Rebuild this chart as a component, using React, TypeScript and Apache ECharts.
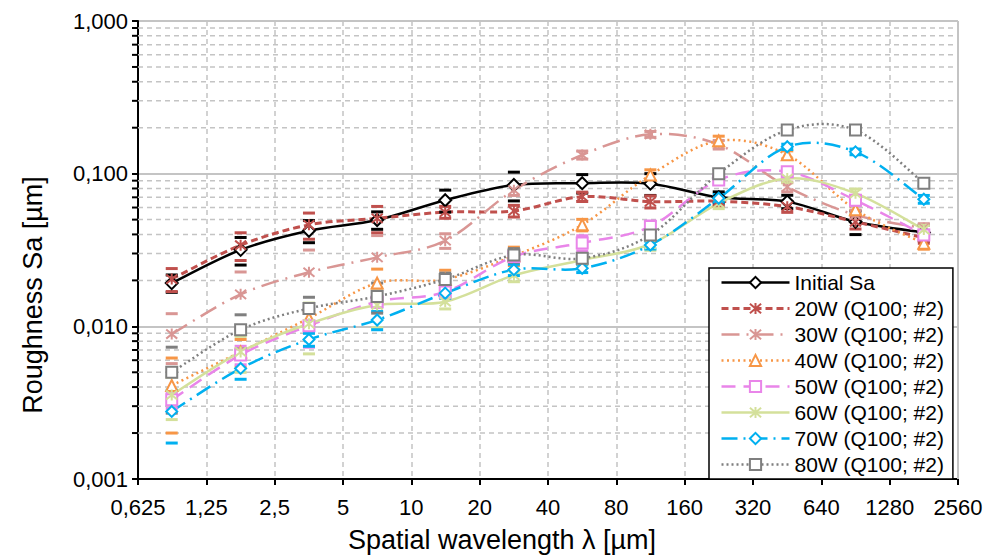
import React, { useEffect, useRef } from 'react';
import * as echarts from 'echarts';

// Spatial wavelength of each band centre [µm]
const wavelength = [0.88, 1.77, 3.54, 7.07, 14.1, 28.3, 56.6, 113, 226, 453, 905, 1810];
// first x tick label value and number of octaves on the x axis
const firstTick = 0.625;
const octaves = 12;

const initialSa = [0.0192, 0.0317, 0.0423, 0.0497, 0.067, 0.0843, 0.0866, 0.086, 0.07, 0.0656, 0.0484, 0.0412];
const initialSaErr = [0.0025, 0.0065, 0.007, 0.0065, 0.011, 0.018, 0.012, 0.014, 0.006, 0.0066, 0.0085, 0.005];
const w20 = [0.0204, 0.034, 0.0462, 0.051, 0.056, 0.057, 0.0707, 0.0656, 0.066, 0.0608, 0.0484, 0.038];
const w20Err = [0.0035, 0.007, 0.009, 0.01, 0.005, 0.005, 0.005, 0.006, 0.005, 0.005, 0.005, 0.003];
const w30 = [0.0089, 0.0162, 0.0226, 0.0283, 0.0364, 0.078, 0.1326, 0.181, 0.155, 0.082, 0.0537, 0.044];
const w30Err = [0.0032, 0.0065, 0.009, 0.011, 0.004, 0.006, 0.008, 0.008, 0.01, 0.006, 0.004, 0.003];
const w40 = [0.0041, 0.0068, 0.0113, 0.0192, 0.0203, 0.029, 0.0462, 0.098, 0.164, 0.133, 0.058, 0.035];
const w40Err = [0.0021, 0.0014, 0.0012, 0.0045, 0.003, 0.004, 0.004, 0.008, 0.012, 0.008, 0.004, 0.003];
const w50 = [0.0033, 0.0065, 0.0101, 0.0145, 0.0168, 0.0287, 0.0352, 0.045, 0.091, 0.103, 0.067, 0.0397];
const w50Err = [0.0004, 0.0009, 0.0028, 0.0012, 0.0015, 0.002, 0.004, 0.004, 0.006, 0.006, 0.005, 0.003];
const w60 = [0.00355, 0.0068, 0.0104, 0.0138, 0.0145, 0.0216, 0.0272, 0.0345, 0.064, 0.093, 0.0743, 0.043];
const w60Err = [0.0011, 0.0018, 0.0038, 0.004, 0.0015, 0.002, 0.002, 0.003, 0.005, 0.006, 0.005, 0.003];
const w70 = [0.00277, 0.0053, 0.0082, 0.011, 0.0165, 0.0235, 0.024, 0.0341, 0.069, 0.15, 0.139, 0.068];
const w70Err = [0.00105, 0.0008, 0.0008, 0.0015, 0.0012, 0.002, 0.0015, 0.002, 0.004, 0.006, 0.006, 0.004];
const w80 = [0.005, 0.0095, 0.0131, 0.0157, 0.0203, 0.0293, 0.0279, 0.0397, 0.1, 0.193, 0.193, 0.0866];
const w80Err = [0.0023, 0.0024, 0.0024, 0.0035, 0.002, 0.003, 0.002, 0.003, 0.006, 0.008, 0.008, 0.004];

// minor (dashed) gridlines of the logarithmic y axis
const yMinorTicks = [
  0.002, 0.003, 0.004, 0.005, 0.006, 0.007, 0.008, 0.009,
  0.02, 0.03, 0.04, 0.05, 0.06, 0.07, 0.08, 0.09,
  0.2, 0.3, 0.4, 0.5, 0.6, 0.7, 0.8, 0.9,
];

const FONT = '"Liberation Sans", Arial, Helvetica, sans-serif';
const ASTER = 'path://M0,0L10,10M10,0L0,10M5,-1L5,11';

type Def = {
  name: string;
  data: number[];
  err: number[];
  color: string;
  dash: number[] | 'solid';
  width: number;
  symbol: string;
  size: number;
};

const defs: Def[] = [
  { name: 'Initial Sa', data: initialSa, err: initialSaErr, color: '#000000', dash: 'solid', width: 2.5, symbol: 'emptyDiamond', size: 12 },
  { name: '20W (Q100; #2)', data: w20, err: w20Err, color: '#C0504D', dash: [7, 4], width: 3, symbol: ASTER, size: 11 },
  { name: '30W (Q100; #2)', data: w30, err: w30Err, color: '#D99694', dash: [18, 7, 2, 7], width: 2.5, symbol: ASTER, size: 11 },
  { name: '40W (Q100; #2)', data: w40, err: w40Err, color: '#F79646', dash: [2, 3.5], width: 2.5, symbol: 'emptyTriangle', size: 11 },
  { name: '50W (Q100; #2)', data: w50, err: w50Err, color: '#E985E9', dash: [14, 8], width: 2.5, symbol: 'emptyRect', size: 11 },
  { name: '60W (Q100; #2)', data: w60, err: w60Err, color: '#D4E09B', dash: 'solid', width: 2.5, symbol: ASTER, size: 11 },
  { name: '70W (Q100; #2)', data: w70, err: w70Err, color: '#00B0F0', dash: [16, 6, 2, 6], width: 2.5, symbol: 'emptyDiamond', size: 11 },
  { name: '80W (Q100; #2)', data: w80, err: w80Err, color: '#7F7F7F', dash: [2, 3], width: 2.5, symbol: 'emptyRect', size: 11 },
];

const octave = (w: number) => Math.log2(w / firstTick);
const fmtComma = (v: number, digits?: number) =>
  (digits != null ? v.toFixed(digits) : String(v)).replace('.', ',');

// Spreadsheet-style smoothed curve (cardinal spline through the points)
function smoothPath(pts: number[][]): string {
  const n = pts.length;
  let d = `M${pts[0][0]},${pts[0][1]}`;
  for (let i = 0; i < n - 1; i++) {
    const p0 = pts[i - 1] || pts[i];
    const p1 = pts[i];
    const p2 = pts[i + 1];
    const p3 = pts[i + 2] || pts[i + 1];
    const c1x = p1[0] + (p2[0] - p0[0]) / 6;
    const c1y = p1[1] + (p2[1] - p0[1]) / 6;
    const c2x = p2[0] - (p3[0] - p1[0]) / 6;
    const c2y = p2[1] - (p3[1] - p1[1]) / 6;
    d += ` C${c1x},${c1y} ${c2x},${c2y} ${p2[0]},${p2[1]}`;
  }
  return d;
}

export default function App() {
  const ref = useRef<HTMLDivElement>(null);

  useEffect(() => {
    const chart = echarts.init(ref.current!, null, { renderer: 'svg' });

    const curveSeries = defs.map((d) => ({
      name: 'curve ' + d.name,
      type: 'custom',
      silent: true,
      z: 3,
      data: d.data.map((v, i) => [octave(wavelength[i]), v]),
      encode: { x: 0, y: 1 },
      renderItem: (params: any, api: any) => {
        if (params.dataIndex !== 0) return null;
        const pts = d.data.map((v, i) => api.coord([octave(wavelength[i]), v]));
        return {
          type: 'path',
          shape: { pathData: smoothPath(pts) },
          style: {
            fill: 'none',
            stroke: d.color,
            lineWidth: d.width,
            lineDash: d.dash === 'solid' ? null : d.dash,
          },
        };
      },
    }));

    const markerSeries = defs.map((d) => ({
      name: d.name,
      type: 'line',
      data: d.data.map((v, i) => [octave(wavelength[i]), v]),
      symbol: d.symbol,
      symbolSize: d.size,
      showSymbol: true,
      lineStyle: { color: d.color, width: d.width, type: d.dash, opacity: 0 },
      itemStyle: { color: d.color, borderColor: d.color, borderWidth: 2 },
      emphasis: { disabled: true },
      z: 5,
    }));

    const errSeries = defs.map((d) => ({
      name: 'err ' + d.name,
      type: 'custom',
      silent: true,
      z: 4,
      data: d.data.map((v, i) => [octave(wavelength[i]), v - d.err[i], v + d.err[i]]),
      encode: { x: 0, y: [1, 2] },
      renderItem: (params: any, api: any) => {
        const x = api.value(0);
        const lo = api.coord([x, api.value(1)]);
        const hi = api.coord([x, api.value(2)]);
        const hw = 6;
        const st = { stroke: d.color, lineWidth: 3 };
        return {
          type: 'group',
          children: [
            { type: 'line', shape: { x1: lo[0] - hw, y1: lo[1], x2: lo[0] + hw, y2: lo[1] }, style: st },
            { type: 'line', shape: { x1: hi[0] - hw, y1: hi[1], x2: hi[0] + hw, y2: hi[1] }, style: st },
          ],
        };
      },
    }));

    const minorGrid = {
      name: 'minor grid',
      type: 'custom',
      silent: true,
      z: 1,
      data: yMinorTicks.map((v) => [0, v]),
      encode: { x: 0, y: 1 },
      renderItem: (params: any, api: any) => {
        const cs = params.coordSys;
        const y = api.coord([0, api.value(1)])[1];
        const children: any[] = [
          { type: 'line', shape: { x1: cs.x, y1: y, x2: cs.x + cs.width, y2: y }, style: { stroke: '#C4C4C4', lineWidth: 1.5, lineDash: [5, 4] } },
          { type: 'line', shape: { x1: cs.x - 6, y1: y, x2: cs.x, y2: y }, style: { stroke: '#000', lineWidth: 2 } },
        ];
        if (params.dataIndex === 0) {
          children.push({ type: 'line', shape: { x1: cs.x + cs.width, y1: cs.y, x2: cs.x + cs.width, y2: cs.y + cs.height }, style: { stroke: '#C4C4C4', lineWidth: 2 } });
        }
        return { type: 'group', children };
      },
    };

    const option: any = {
      animation: false,
      textStyle: { fontFamily: FONT },
      grid: { left: 138, top: 21, right: 37, bottom: 77, containLabel: false },
      xAxis: {
        type: 'value',
        min: 0,
        max: octaves,
        interval: 1,
        axisLine: { show: true, onZero: false, lineStyle: { color: '#000', width: 2 } },
        axisTick: { show: true, length: 6, lineStyle: { color: '#000', width: 2 } },
        axisLabel: {
          fontSize: 22,
          color: '#000',
          margin: 17,
          fontFamily: FONT,
          showMinLabel: true,
          showMaxLabel: true,
          formatter: (v: number) => fmtComma(firstTick * Math.pow(2, v)),
        },
        splitLine: { show: true, lineStyle: { color: '#C4C4C4', width: 1.5, type: [5, 4] } },
      },
      yAxis: {
        type: 'log',
        logBase: 10,
        min: 0.001,
        max: 1,
        axisLine: { show: true, onZero: false, lineStyle: { color: '#000', width: 2 } },
        axisTick: { show: true, length: 6, lineStyle: { color: '#000', width: 2 } },
        axisLabel: {
          fontSize: 22,
          color: '#000',
          margin: 10,
          fontFamily: FONT,
          formatter: (v: number) => fmtComma(v, 3),
        },
        splitLine: { show: true, lineStyle: { color: '#C4C4C4', width: 2, type: 'solid' } },
      },
      legend: {
        show: true,
        orient: 'vertical',
        left: 709,
        top: 268,
        data: defs.map((d) => ({
          name: d.name,
          lineStyle: { color: d.color, width: d.width, type: d.dash, opacity: 1 },
        })),
        itemWidth: 68,
        itemHeight: 14,
        itemGap: 5,
        itemTextGap: 9,
        padding: [4, 9, 4, 11],
        borderColor: '#000',
        borderWidth: 1.5,
        backgroundColor: '#fff',
        selectedMode: false,
        textStyle: { fontSize: 21, color: '#000', fontFamily: FONT },
      },
      graphic: [
        {
          type: 'text',
          x: 502,
          y: 540,
          style: {
            text: 'Spatial wavelength λ [µm]',
            font: '27px ' + FONT,
            fill: '#000',
            align: 'center',
            verticalAlign: 'middle',
            textAlign: 'center',
            textVerticalAlign: 'middle',
          },
        },
        {
          type: 'text',
          x: 33,
          y: 295,
          rotation: Math.PI / 2,
          style: {
            text: 'Roughness Sa [µm]',
            font: '27px ' + FONT,
            fill: '#000',
            align: 'center',
            verticalAlign: 'middle',
            textAlign: 'center',
            textVerticalAlign: 'middle',
          },
        },
      ],
      series: [minorGrid, ...curveSeries, ...errSeries, ...markerSeries],
    };

    chart.setOption(option);
    return () => chart.dispose();
  }, []);

  return (
    <div
      ref={ref}
      style={{ width: 995, height: 556, position: 'absolute', left: 0, top: 0, background: '#fff' }}
    />
  );
}
